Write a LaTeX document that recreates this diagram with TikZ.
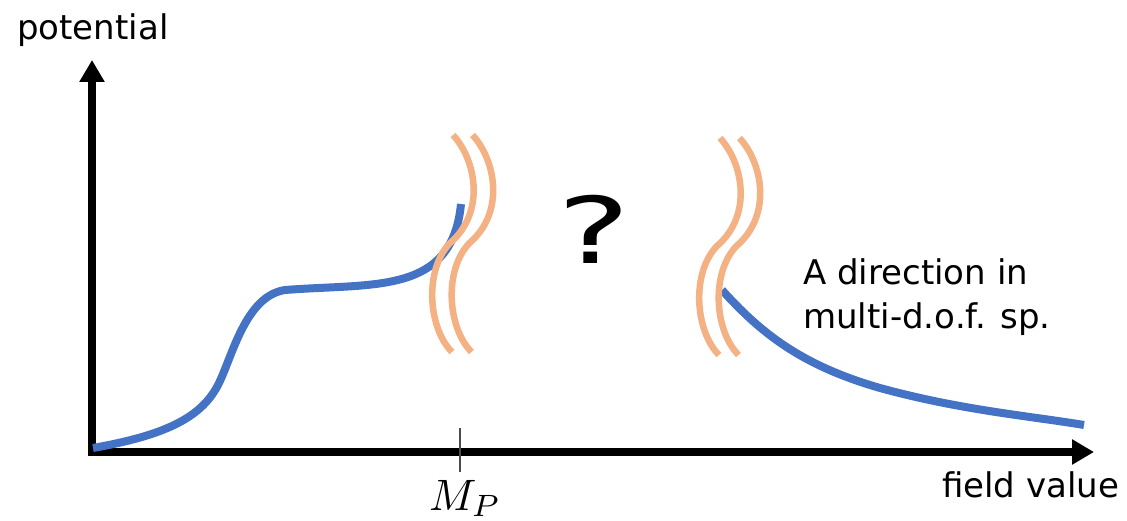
\documentclass[tikz,border=0pt]{standalone}
\usepackage{fontspec}
\setmainfont{DejaVu Sans}
\usetikzlibrary{arrows.meta}
\definecolor{curveblue}{HTML}{4472C4}
\definecolor{breakorange}{HTML}{F4B183}
\tikzset{
  axis/.style={line width=7.5pt, -{Triangle[length=22pt,width=24pt]}},
  curve/.style={curveblue, line width=8pt},
  breakline/.style={breakorange, line width=6.5pt},
  label/.style={font=\fontsize{34}{40}\selectfont, inner sep=0pt, anchor=base west},
}
\newcommand{\sbreak}{(0,0) .. controls (23,25) and (33,77) .. (-3,108) .. controls (-29,135) and (-25,193) .. (-1,217)}
\begin{document}
\begin{tikzpicture}[x=1pt,y=-1pt]
\useasboundingbox (0,0) rectangle (1127,521);
\coordinate (O) at (92,452);
\coordinate (ytip) at (92,60);
\coordinate (xtip) at (1094,452);
\draw[axis] (92,455.5) -- (ytip);
\draw[axis] (88.5,452) -- (xtip);
% tick at M_P
\coordinate (tt) at (460,428);
\coordinate (tb) at (460,472);
\draw[black!70, line width=1.3pt] (tt) -- (tb);
% blue curves
\draw[curve] (93,448) .. controls (160,436) and (200,420) .. (218,385)
  .. controls (232,358) and (245,296) .. (285,290)
  .. controls (375,283) and (452,295) .. (461,204);
\draw[curve] (722,290) .. controls (760,332) and (800,365) .. (880,388)
  .. controls (960,410) and (1030,416) .. (1084,425);
% break marks
\draw[breakline, shift={(453,135)}] \sbreak;
\draw[breakline, shift={(472.5,135)}] \sbreak;
\draw[breakline, shift={(720,138)}] \sbreak;
\draw[breakline, shift={(739.5,138)}] \sbreak;
% texts
\node[label] (pot) at (17,40) {potential};
\node[label] (fv) at (942,497) {field value};
\node[label] (d1) at (803,285) {A direction in};
\node[label] (d2) at (803,328) {multi-d.o.f. sp.};
\node[inner sep=0pt, anchor=base west] (mp) at (429,510) {\scalebox{4.4}{$M_P$}};
\node[inner sep=0pt, font=\fontsize{92}{100}\selectfont] (q) at (594,229) {\scalebox{1.5}[1]{?}};
\end{tikzpicture}
\end{document}
